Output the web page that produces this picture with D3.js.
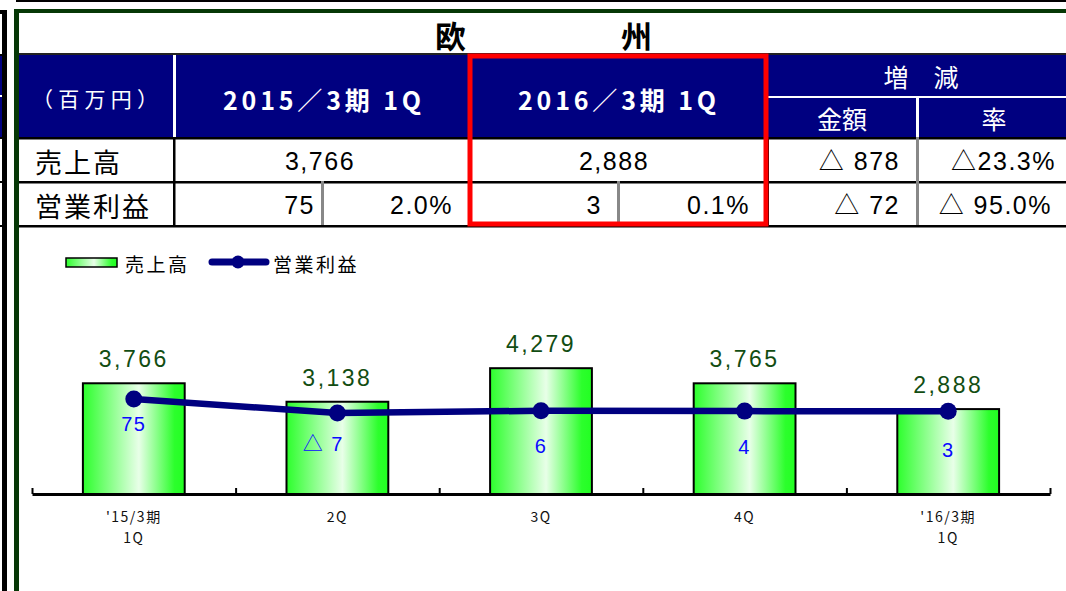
<!DOCTYPE html>
<html>
<head>
<meta charset="utf-8">
<script src="https://cdn.jsdelivr.net/npm/d3@7"></script>
<style>
  html, body { margin: 0; padding: 0; background: #fff; }
  svg { display: block; }
  text { font-family: "Liberation Sans", "Noto Sans CJK JP", sans-serif; }
  .jp { font-family: "Noto Sans CJK JP", "Liberation Sans", sans-serif; }
</style>
</head>
<body>
<svg id="chart" width="1066" height="591"></svg>
<script>
// ---- data ----
var regionTitle = "欧　　　　　州";
var unitLabel = "（百万円）";
var periodHeaders = ["2015／3期 1Q", "2016／3期 1Q"];
var changeHeaders = ["増　減", "金額", "率"];
var rowLabels = ["売上高", "営業利益"];
var salesCells = ["3,766", "2,888", "△ 878", "△23.3%"];
var profitCells = ["75", "2.0%", "3", "0.1%", "△ 72", "△ 95.0%"];

var quarterLabels = [["'15/3期", "1Q"], ["2Q"], ["3Q"], ["4Q"], ["'16/3期", "1Q"]];
var sales = [3766, 3138, 4279, 3765, 2888];
var profit = [75, -7, 6, 4, 3];
var legendNames = ["売上高", "営業利益"];

// label nudges around the line points
var profitLabelDy = [25, 31, 35, 36, 39];
var profitLabelDx = [0, -14, 0, 0, 0];

var navy = "#000080";
var darkGreen = "#063806";

var svg = d3.select("#chart");

// gradient for bars
var defs = svg.append("defs");
var grad = defs.append("linearGradient").attr("id", "barGrad")
  .attr("x1", "0").attr("x2", "1").attr("y1", "0").attr("y2", "0");
grad.selectAll("stop")
  .data([[0, "#2cff2c"], [0.55, "#e8ffe8"], [0.9, "#2cff2c"], [1, "#22ff22"]])
  .enter().append("stop")
  .attr("offset", function (d) { return d[0]; })
  .attr("stop-color", function (d) { return d[1]; });

// ---- frame ----
svg.append("rect").attr("x", 16).attr("y", 0).attr("width", 1050).attr("height", 2).attr("fill", "#000");
svg.append("rect").attr("x", 0).attr("y", 10).attr("width", 7).attr("height", 4).attr("fill", "#000");
svg.append("rect").attr("x", 2).attr("y", 10).attr("width", 5).attr("height", 581).attr("fill", "#000");
svg.append("rect").attr("x", 0).attr("y", 55).attr("width", 2).attr("height", 82).attr("fill", navy);
svg.append("rect").attr("x", 0).attr("y", 95).attr("width", 2).attr("height", 2).attr("fill", "#fff");
[54, 137, 181, 225].forEach(function (y) {
  svg.append("rect").attr("x", 0).attr("y", y).attr("width", 2).attr("height", 2).attr("fill", "#000");
});
svg.append("rect").attr("x", 14).attr("y", 9).attr("width", 1052).attr("height", 4).attr("fill", darkGreen);
svg.append("rect").attr("x", 14).attr("y", 9).attr("width", 5).attr("height", 582).attr("fill", darkGreen);

// ---- title ----
svg.append("text").attr("class", "jp")
  .attr("x", 435).attr("y", 48)
  .attr("font-size", 31).attr("font-weight", "bold")
  .text(regionTitle);

// ---- table ----
var colEdges = [19, 174, 470, 768, 917, 1066];
var hdrTop = 55, hdrMid = 96, hdrBot = 137, row1Bot = 181, row2Bot = 225;

var table = svg.append("g");
table.append("rect").attr("x", 19).attr("y", hdrTop).attr("width", 1047).attr("height", hdrBot - hdrTop).attr("fill", navy);
table.append("rect").attr("x", 19).attr("y", hdrTop - 2).attr("width", 1047).attr("height", 2).attr("fill", "#222");
table.append("rect").attr("x", 173).attr("y", hdrTop).attr("width", 3).attr("height", hdrBot - hdrTop).attr("fill", "#fff");
table.append("rect").attr("x", colEdges[3]).attr("y", hdrMid).attr("width", 1066 - colEdges[3]).attr("height", 2).attr("fill", "#fff");
table.append("rect").attr("x", 916).attr("y", hdrMid).attr("width", 3).attr("height", hdrBot - hdrMid).attr("fill", "#fff");

[hdrBot, row1Bot, row2Bot].forEach(function (y) {
  table.append("rect").attr("x", 19).attr("y", y).attr("width", 1047).attr("height", 2.5).attr("fill", "#000");
});
table.append("rect").attr("x", 173).attr("y", hdrBot).attr("width", 2.5).attr("height", row2Bot - hdrBot).attr("fill", "#000");
table.append("rect").attr("x", 469).attr("y", hdrBot).attr("width", 2).attr("height", row2Bot - hdrBot).attr("fill", "#000");
table.append("rect").attr("x", 767).attr("y", hdrBot).attr("width", 2).attr("height", row2Bot - hdrBot).attr("fill", "#000");
table.append("rect").attr("x", 916).attr("y", hdrBot).attr("width", 3).attr("height", row2Bot - hdrBot).attr("fill", "#888");
[321, 617].forEach(function (x) {
  table.append("rect").attr("x", x).attr("y", row1Bot).attr("width", 3).attr("height", row2Bot - row1Bot).attr("fill", "#888");
});

// header texts
table.append("text").attr("class", "jp")
  .attr("x", 95).attr("y", 98).attr("text-anchor", "middle").attr("dominant-baseline", "central")
  .attr("fill", "#fff").attr("font-size", 21)
  .attr("textLength", 126).attr("lengthAdjust", "spacing")
  .text(unitLabel);

table.selectAll(".period").data(periodHeaders).enter().append("text")
  .attr("class", "period jp")
  .attr("x", function (d, i) { return i === 0 ? 322 : 617; })
  .attr("y", 99).attr("text-anchor", "middle").attr("dominant-baseline", "central")
  .attr("fill", "#fff").attr("font-size", 25).attr("font-weight", "bold")
  .attr("textLength", 198).attr("lengthAdjust", "spacing")
  .text(function (d) { return d; });

table.selectAll(".chg").data(changeHeaders).enter().append("text")
  .attr("class", "chg jp")
  .attr("x", function (d, i) { return [921, 842, 994][i]; })
  .attr("y", function (d, i) { return i === 0 ? 76 : 118; })
  .attr("text-anchor", "middle").attr("dominant-baseline", "central")
  .attr("fill", "#fff").attr("font-size", 25)
  .text(function (d) { return d; });

// row labels
table.selectAll(".rl").data(rowLabels).enter().append("text")
  .attr("class", "rl jp")
  .attr("x", 35).attr("y", function (d, i) { return i === 0 ? 161 : 205; })
  .attr("dominant-baseline", "central")
  .attr("font-size", 27).attr("letter-spacing", 2)
  .text(function (d) { return d; });

// row 1 values
var r1x = [320, 614, 900, 1056];
var r1anchor = ["middle", "middle", "end", "end"];
table.selectAll(".r1").data(salesCells).enter().append("text")
  .attr("class", "r1")
  .attr("x", function (d, i) { return r1x[i]; })
  .attr("y", 161).attr("dominant-baseline", "central")
  .attr("text-anchor", function (d, i) { return r1anchor[i]; })
  .attr("font-size", 25).attr("letter-spacing", 1.5)
  .text(function (d) { return d; });

// row 2 values
var r2x = [315, 453, 602, 750, 900, 1052];
table.selectAll(".r2").data(profitCells).enter().append("text")
  .attr("class", "r2")
  .attr("x", function (d, i) { return r2x[i]; })
  .attr("y", 205).attr("dominant-baseline", "central")
  .attr("text-anchor", "end")
  .attr("font-size", 25).attr("letter-spacing", 1.5)
  .text(function (d) { return d; });

// red highlight box
svg.append("rect").attr("x", 470).attr("y", 56).attr("width", 296).attr("height", 168)
  .attr("fill", "none").attr("stroke", "#ff0000").attr("stroke-width", 5);

// ---- legend ----
var legend = svg.append("g");
legend.append("rect").attr("x", 66).attr("y", 258).attr("width", 51).attr("height", 9)
  .attr("fill", "url(#barGrad)").attr("stroke", "#000").attr("stroke-width", 1.5);
legend.append("text").attr("class", "jp").attr("x", 125).attr("y", 263)
  .attr("dominant-baseline", "central").attr("font-size", 19).attr("letter-spacing", 2.5)
  .text(legendNames[0]);
legend.append("line").attr("x1", 212).attr("x2", 266).attr("y1", 262).attr("y2", 262)
  .attr("stroke", navy).attr("stroke-width", 7).attr("stroke-linecap", "round");
legend.append("circle").attr("cx", 238).attr("cy", 262).attr("r", 6.5).attr("fill", navy);
legend.append("text").attr("class", "jp").attr("x", 273).attr("y", 263)
  .attr("dominant-baseline", "central").attr("font-size", 19).attr("letter-spacing", 2.5)
  .text(legendNames[1]);

// ---- chart ----
var left = 32, right = 1050, base = 494;

var x = d3.scaleBand().domain(d3.range(sales.length)).range([left, right])
  .paddingInner(0.5).paddingOuter(0.25);
var xEdge = d3.scaleLinear().domain([0, sales.length]).range([left, right]);
var y = d3.scaleLinear().domain([0, 10000]).range([base, 200]);
var y2 = d3.scaleLinear().domain([0, 75]).range([411.8, 399]);

function cx(i) { return x(i) + x.bandwidth() / 2; }

var bars = svg.append("g");
bars.selectAll("rect").data(sales).enter().append("rect")
  .attr("x", function (d, i) { return x(i); })
  .attr("y", function (d) { return y(d); })
  .attr("width", x.bandwidth())
  .attr("height", function (d) { return base - y(d); })
  .attr("fill", "url(#barGrad)")
  .attr("stroke", "#000").attr("stroke-width", 2);

bars.selectAll("text").data(sales).enter().append("text")
  .attr("x", function (d, i) { return cx(i); })
  .attr("y", function (d) { return y(d) - 16; })
  .attr("text-anchor", "middle")
  .attr("fill", "#124d12").attr("font-size", 23).attr("letter-spacing", 2.5)
  .text(function (d) { return d3.format(",")(d); });

// axis
var axis = svg.append("g").attr("transform", "translate(0," + base + ")")
  .call(d3.axisBottom(xEdge).tickValues(d3.range(sales.length + 1))
    .tickSize(-6).tickSizeOuter(0).tickFormat(""));
axis.select(".domain").attr("stroke", "#000").attr("stroke-width", 3);
axis.selectAll(".tick line").attr("stroke", "#000").attr("stroke-width", 2);

var xl = svg.append("g");
xl.selectAll("text").data(quarterLabels).enter().append("text")
  .attr("class", "jp")
  .attr("x", function (d, i) { return cx(i); })
  .attr("y", 516)
  .attr("text-anchor", "middle").attr("dominant-baseline", "central")
  .attr("font-size", 14).attr("fill", "#111").attr("letter-spacing", 1.5)
  .each(function (d) {
    var t = d3.select(this);
    d.forEach(function (s, k) {
      t.append("tspan").attr("x", t.attr("x")).attr("dy", k === 0 ? 0 : 21).text(s);
    });
  });

// profit line
var line = d3.line()
  .x(function (d, i) { return cx(i); })
  .y(function (d) { return y2(d); });

svg.append("path").datum(profit)
  .attr("d", line).attr("fill", "none")
  .attr("stroke", navy).attr("stroke-width", 6.5);

svg.append("g").selectAll("circle").data(profit).enter().append("circle")
  .attr("cx", function (d, i) { return cx(i); })
  .attr("cy", function (d) { return y2(d); })
  .attr("r", 8.5).attr("fill", navy);

svg.append("g").selectAll("text").data(profit).enter().append("text")
  .attr("x", function (d, i) { return cx(i) + profitLabelDx[i]; })
  .attr("y", function (d, i) { return y2(d) + profitLabelDy[i]; })
  .attr("text-anchor", "middle").attr("dominant-baseline", "central")
  .attr("fill", "#0a0aff").attr("font-size", 20).attr("letter-spacing", 1.5)
  .text(function (d) { return d < 0 ? "△ " + Math.abs(d) : d; });
</script>
</body>
</html>
